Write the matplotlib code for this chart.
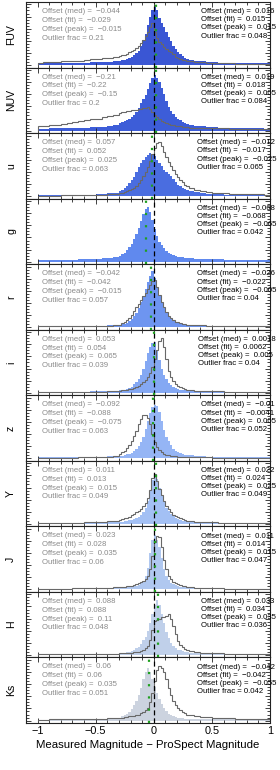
import numpy as np
import matplotlib
matplotlib.use("Agg")
import matplotlib.pyplot as plt
from matplotlib.ticker import MultipleLocator

plt.rcParams['font.family'] = ['Liberation Sans', 'DejaVu Sans']

# ---------------- data ----------------
bands = ["FUV", "NUV", "u", "g", "r", "i", "z", "Y", "J", "H", "Ks"]
fill_colors = ['#3a56d4', '#3d5dd8', '#4a6de0', '#6089ee', '#6e95f0', '#84a8f3',
               '#95b5f5', '#a3c0f4', '#b0c8f0', '#c0d0ea', '#ccd3df']

# bin edges: coarse tails, fine core
edges = np.concatenate([np.arange(-1.0, -0.3, 0.05), np.arange(-0.3, 0.3, 0.02),
                        np.arange(0.3, 1.0001, 0.05)])

fuv_fill = [0.035,0.035,0.035,0.036,0.037,0.038,0.039,0.04,0.042,0.044,0.047,0.052,0.058,0.065,
            0.072,0.08,0.09,0.10,0.12,0.14,0.16,0.20,0.24,0.32,0.42,0.52,0.66,0.80,0.90,
            0.96,0.90,0.78,0.70,0.62,0.54,0.46,0.40,0.32,0.26,0.21,0.18,0.15,0.12,0.10,
            0.085,0.07,0.06,0.05,0.045,0.04,0.037,0.035,0.033,0.032,0.031,0.03,0.03,0.03]
fuv_gray = [0.04,0.045,0.05,0.055,0.06,0.065,0.07,0.075,0.085,0.095,0.105,0.115,0.125,0.14,
            0.15,0.16,0.17,0.19,0.21,0.23,0.25,0.28,0.32,0.37,0.42,0.48,0.54,0.62,0.69,
            0.55,0.45,0.38,0.34,0.30,0.27,0.24,0.21,0.18,0.14,0.12,0.10,0.09,0.08,0.07,
            0.06,0.05,0.045,0.04,0.035,0.033,0.03,0.028,0.026,0.025,0.024,0.023,0.022,0.02]
nuv_fill = [0.035,0.035,0.037,0.038,0.04,0.042,0.045,0.048,0.052,0.056,0.06,0.068,0.078,0.095,
            0.12,0.14,0.155,0.17,0.19,0.22,0.25,0.31,0.38,0.46,0.52,0.59,0.68,0.78,0.86,
            0.92,0.87,0.80,0.70,0.60,0.49,0.39,0.32,0.27,0.23,0.20,0.17,0.145,0.125,0.11,
            0.095,0.08,0.07,0.063,0.057,0.052,0.048,0.045,0.042,0.04,0.038,0.037,0.036,0.035]
nuv_gray = [0.07,0.08,0.09,0.10,0.115,0.125,0.14,0.155,0.17,0.185,0.2,0.22,0.24,0.265,
            0.29,0.30,0.31,0.32,0.33,0.335,0.34,0.345,0.35,0.36,0.37,0.38,0.39,0.35,0.30,
            0.26,0.22,0.19,0.165,0.145,0.13,0.115,0.10,0.09,0.08,0.075,0.07,0.065,0.06,0.056,
            0.052,0.048,0.045,0.042,0.04,0.038,0.036,0.034,0.033,0.032,0.031,0.03,0.03,0.03]
u_fill = [0.015,0.015,0.016,0.017,0.018,0.019,0.02,0.022,0.025,0.028,0.032,0.037,0.045,0.06,
          0.08,0.11,0.14,0.17,0.21,0.26,0.32,0.40,0.48,0.55,0.60,0.64,0.68,0.72,0.70,
          0.66,0.60,0.55,0.50,0.44,0.40,0.36,0.33,0.28,0.23,0.19,0.16,0.14,0.12,0.10,
          0.08,0.065,0.05,0.042,0.036,0.032,0.028,0.025,0.023,0.021,0.02,0.02,0.019,0.018]
u_gray = [0.01,0.01,0.01,0.011,0.012,0.013,0.014,0.016,0.018,0.02,0.023,0.027,0.032,0.04,
          0.05,0.06,0.075,0.09,0.105,0.12,0.14,0.17,0.21,0.27,0.33,0.40,0.48,0.58,0.70,
          0.80,0.88,0.90,0.82,0.73,0.64,0.56,0.49,0.43,0.37,0.31,0.27,0.23,0.19,0.17,
          0.13,0.10,0.085,0.07,0.06,0.052,0.046,0.04,0.036,0.033,0.031,0.03,0.029,0.028]
g_fill = [0.03,0.03,0.031,0.032,0.033,0.035,0.037,0.04,0.043,0.046,0.05,0.056,0.065,0.08,
          0.10,0.12,0.15,0.19,0.24,0.30,0.38,0.46,0.55,0.67,0.78,0.87,0.90,0.82,0.68,
          0.54,0.42,0.33,0.27,0.22,0.18,0.145,0.12,0.105,0.095,0.085,0.078,0.072,0.067,0.062,
          0.056,0.05,0.046,0.043,0.04,0.038,0.036,0.034,0.033,0.032,0.031,0.03,0.03,0.03]
g_gray = None
r_fill = [0.017,0.017,0.017,0.018,0.018,0.019,0.02,0.021,0.022,0.023,0.025,0.027,0.03,0.034,
          0.04,0.05,0.06,0.075,0.10,0.13,0.18,0.24,0.32,0.42,0.52,0.63,0.75,0.85,0.92,
          0.82,0.66,0.52,0.41,0.32,0.25,0.19,0.14,0.11,0.085,0.07,0.06,0.052,0.047,0.043,
          0.038,0.033,0.03,0.027,0.025,0.023,0.021,0.02,0.019,0.018,0.018,0.017,0.017,0.017]
r_gray = [0.015,0.015,0.016,0.016,0.017,0.018,0.019,0.02,0.021,0.022,0.023,0.025,0.028,0.035,
          0.045,0.065,0.09,0.12,0.16,0.21,0.27,0.33,0.39,0.45,0.51,0.56,0.63,0.70,0.76,
          0.78,0.66,0.53,0.42,0.33,0.25,0.19,0.15,0.12,0.095,0.08,0.065,0.055,0.048,0.044,
          0.038,0.033,0.03,0.028,0.026,0.024,0.023,0.022,0.021,0.02,0.02,0.019,0.019,0.018]
i_fill = [0.017,0.017,0.017,0.018,0.018,0.019,0.02,0.021,0.022,0.023,0.025,0.027,0.03,0.035,
          0.04,0.047,0.055,0.065,0.08,0.10,0.14,0.18,0.23,0.30,0.39,0.52,0.66,0.76,0.82,
          0.83,0.70,0.54,0.40,0.30,0.23,0.17,0.13,0.10,0.08,0.065,0.055,0.045,0.04,0.036,
          0.032,0.028,0.025,0.023,0.021,0.02,0.019,0.018,0.018,0.017,0.017,0.017,0.017,0.017]
i_gray = [0.01,0.01,0.01,0.011,0.011,0.012,0.013,0.014,0.015,0.017,0.019,0.022,0.026,0.03,
          0.035,0.04,0.045,0.05,0.06,0.07,0.08,0.10,0.12,0.15,0.18,0.21,0.26,0.32,0.42,
          0.55,0.70,0.85,0.90,0.76,0.55,0.36,0.26,0.20,0.15,0.12,0.10,0.08,0.065,0.055,
          0.045,0.038,0.033,0.029,0.026,0.024,0.022,0.02,0.019,0.018,0.018,0.017,0.017,0.017]
z_fill = [0.017,0.017,0.018,0.018,0.019,0.02,0.021,0.022,0.023,0.025,0.027,0.03,0.033,0.037,
          0.04,0.045,0.055,0.065,0.075,0.09,0.12,0.16,0.21,0.27,0.36,0.48,0.61,0.74,0.84,
          0.88,0.86,0.76,0.62,0.46,0.35,0.28,0.22,0.16,0.12,0.10,0.085,0.072,0.062,0.055,
          0.048,0.04,0.035,0.03,0.027,0.024,0.022,0.021,0.02,0.019,0.018,0.018,0.017,0.017]
z_gray = [0.01,0.01,0.01,0.011,0.012,0.013,0.014,0.015,0.017,0.019,0.021,0.024,0.03,0.04,
          0.07,0.10,0.13,0.17,0.22,0.28,0.37,0.45,0.56,0.65,0.71,0.72,0.66,0.56,0.40,
          0.27,0.19,0.14,0.10,0.075,0.06,0.05,0.042,0.036,0.032,0.03,0.028,0.025,0.023,0.022,
          0.02,0.018,0.016,0.015,0.014,0.013,0.012,0.012,0.011,0.011,0.01,0.01,0.01,0.01]
y_fill = [0.011,0.011,0.012,0.012,0.013,0.014,0.015,0.016,0.017,0.019,0.021,0.024,0.028,0.032,
          0.034,0.038,0.045,0.053,0.06,0.07,0.08,0.10,0.12,0.15,0.20,0.27,0.38,0.55,0.72,
          0.82,0.74,0.60,0.48,0.36,0.27,0.21,0.17,0.13,0.10,0.08,0.065,0.055,0.048,0.043,
          0.038,0.032,0.028,0.024,0.021,0.019,0.017,0.015,0.014,0.013,0.012,0.012,0.011,0.011]
y_gray = [0.011,0.012,0.013,0.014,0.015,0.017,0.019,0.021,0.024,0.027,0.031,0.036,0.042,0.05,
          0.06,0.075,0.09,0.105,0.12,0.14,0.16,0.19,0.22,0.25,0.30,0.35,0.42,0.56,0.76,
          0.82,0.70,0.58,0.47,0.38,0.30,0.24,0.19,0.155,0.13,0.11,0.09,0.075,0.065,0.056,
          0.048,0.04,0.034,0.029,0.025,0.022,0.019,0.017,0.015,0.014,0.013,0.012,0.012,0.011]
j_fill = [0.012,0.012,0.012,0.013,0.013,0.014,0.015,0.016,0.017,0.018,0.02,0.022,0.025,0.028,
          0.03,0.033,0.036,0.04,0.045,0.05,0.057,0.065,0.076,0.10,0.14,0.22,0.36,0.60,0.82,
          0.90,0.82,0.70,0.52,0.34,0.22,0.15,0.11,0.085,0.068,0.057,0.048,0.042,0.037,0.033,
          0.029,0.025,0.022,0.02,0.018,0.017,0.016,0.015,0.014,0.013,0.013,0.012,0.012,0.012]
j_gray = [0.012,0.012,0.013,0.014,0.015,0.016,0.017,0.019,0.021,0.023,0.025,0.027,0.03,0.034,
          0.035,0.04,0.045,0.05,0.055,0.065,0.076,0.088,0.10,0.12,0.14,0.17,0.23,0.34,0.55,
          0.78,0.88,0.86,0.70,0.48,0.33,0.22,0.17,0.13,0.11,0.09,0.075,0.06,0.052,0.045,
          0.038,0.032,0.027,0.023,0.02,0.018,0.016,0.015,0.014,0.013,0.013,0.012,0.012,0.012]
h_fill = [0.012,0.012,0.012,0.013,0.013,0.014,0.014,0.015,0.016,0.017,0.018,0.019,0.021,0.023,
          0.027,0.03,0.036,0.043,0.05,0.065,0.085,0.11,0.14,0.18,0.24,0.30,0.40,0.53,0.68,
          0.82,0.90,0.82,0.67,0.52,0.38,0.28,0.20,0.15,0.11,0.09,0.075,0.06,0.05,0.042,
          0.035,0.029,0.025,0.022,0.02,0.018,0.016,0.015,0.014,0.013,0.013,0.012,0.012,0.012]
h_gray = [0.012,0.012,0.012,0.013,0.013,0.014,0.015,0.016,0.017,0.018,0.019,0.02,0.022,0.024,
          0.026,0.028,0.03,0.032,0.036,0.04,0.045,0.05,0.058,0.07,0.09,0.11,0.15,0.24,0.42,
          0.56,0.58,0.60,0.62,0.63,0.65,0.67,0.60,0.48,0.34,0.23,0.17,0.13,0.10,0.08,
          0.065,0.05,0.04,0.034,0.03,0.026,0.023,0.021,0.019,0.017,0.015,0.014,0.013,0.012]
ks_fill = [0.017,0.017,0.017,0.018,0.018,0.019,0.02,0.021,0.022,0.024,0.026,0.028,0.031,0.037,
           0.05,0.07,0.09,0.11,0.14,0.19,0.26,0.33,0.42,0.54,0.68,0.80,0.87,0.80,0.68,
           0.56,0.45,0.35,0.27,0.20,0.15,0.11,0.09,0.07,0.055,0.045,0.04,0.035,0.032,0.03,
           0.027,0.025,0.023,0.022,0.021,0.02,0.019,0.019,0.018,0.018,0.017,0.017,0.017,0.017]
ks_gray = [0.017,0.017,0.018,0.019,0.02,0.021,0.022,0.024,0.026,0.028,0.03,0.032,0.035,0.04,
           0.045,0.05,0.056,0.062,0.068,0.072,0.077,0.085,0.10,0.12,0.14,0.17,0.21,0.30,0.45,
           0.65,0.84,0.90,0.87,0.80,0.68,0.53,0.42,0.33,0.26,0.21,0.17,0.14,0.12,0.10,
           0.085,0.072,0.062,0.055,0.05,0.045,0.041,0.038,0.034,0.031,0.028,0.026,0.024,0.022]

fills = [fuv_fill, nuv_fill, u_fill, g_fill, r_fill, i_fill, z_fill, y_fill, j_fill, h_fill, ks_fill]
grays = [fuv_gray, nuv_gray, u_gray, g_gray, r_gray, i_gray, z_gray, y_gray, j_gray, h_gray, ks_gray]

# statistics text (left = grey outline histogram, right = filled histogram)
left_med  = ["−0.044", "−0.21", "0.057", None, "−0.042", "0.053", "−0.092", "0.011", "0.023", "0.088", "0.06"]
left_fit  = ["−0.029", "−0.22", "0.052", None, "−0.042", "0.054", "−0.088", "0.013", "0.028", "0.088", "0.06"]
left_peak = ["−0.015", "−0.15", "0.025", None, "−0.015", "0.065", "−0.075", "0.015", "0.035", "0.11", "0.035"]
left_out  = ["0.21", "0.2", "0.063", None, "0.057", "0.039", "0.063", "0.049", "0.06", "0.048", "0.051"]
right_med  = ["0.016", "0.019", "−0.012", "−0.068", "−0.026", "0.0018", "−0.01", "0.022", "0.011", "0.033", "−0.042"]
right_fit  = ["0.015", "0.018", "−0.017", "−0.068", "−0.022", "0.0062", "−0.0041", "0.024", "0.014", "0.034", "−0.042"]
right_peak = ["0.015", "0.005", "−0.025", "−0.065", "−0.005", "0.005", "0.005", "0.025", "0.015", "0.035", "−0.055"]
right_out  = ["0.048", "0.084", "0.065", "0.042", "0.04", "0.04", "0.052", "0.049", "0.047", "0.036", "0.042"]

xticks = [-1, -0.5, 0, 0.5, 1]
xticklabels = ["−1", "−0.5", "0", "0.5", "1"]
xlabel = "Measured Magnitude − ProSpect Magnitude"

# ---------------- figure ----------------
fig = plt.figure(figsize=(2.8, 7.7), dpi=100)
axes = fig.subplots(len(bands), 1, sharex=True, gridspec_kw=dict(hspace=0))
fig.subplots_adjust(left=26/280, right=270/280, top=1-2/770, bottom=1-723/770)

def to_num(s):
    return float(s.replace("−", "-"))

text_fs = 5.6
line_y = [0.855, 0.72, 0.585, 0.45]

for k, ax in enumerate(axes):
    ax.stairs(fills[k], edges, fill=True, color=fill_colors[k], lw=0, zorder=1)
    if grays[k] is not None:
        ax.stairs(grays[k], edges, color='#686868', lw=0.8, zorder=2)
    ax.axvline(0, color='black', lw=0.9, ls=(0, (4, 2.5)), zorder=3)
    ax.axvline(to_num(right_med[k]), color='#1fa01f', lw=1.6, ls=(0, (1, 4.5)), zorder=4)

    ax.set_xlim(-1.1, 1.0)
    ax.set_ylim(-0.04, 1.04)
    ax.xaxis.set_major_locator(MultipleLocator(0.5))
    ax.xaxis.set_minor_locator(MultipleLocator(0.1))
    ax.yaxis.set_major_locator(MultipleLocator(0.2))
    ax.yaxis.set_minor_locator(MultipleLocator(0.05))
    ax.tick_params(which='both', direction='in', top=True, right=True,
                   labelleft=False, width=0.6, color='#222222')
    ax.tick_params(which='major', length=3.5)
    ax.tick_params(which='minor', length=2.0)
    for sp in ax.spines.values():
        sp.set_linewidth(0.8)
        sp.set_color('#222222')

    ax.text(-0.061, 0.5, bands[k], transform=ax.transAxes, rotation=90,
            ha='center', va='center', fontsize=7.6)

    if left_med[k] is not None:
        lines = ["Offset (med) =  " + left_med[k], "Offset (fit) =  " + left_fit[k],
                 "Offset (peak) =  " + left_peak[k], "Outlier frac = " + left_out[k]]
        for yy, t in zip(line_y, lines):
            ax.text(0.064, yy, t, transform=ax.transAxes, ha='left', va='center',
                    fontsize=text_fs, color='#8a8a8a')
    rlines = ["Offset (med) =  " + right_med[k], "Offset (fit) =  " + right_fit[k],
              "Offset (peak) =  " + right_peak[k], "Outlier frac = " + right_out[k]]
    ax.text(1.025, 0.905, "\n".join(rlines), transform=ax.transAxes, ha='right',
            va='top', multialignment='left', fontsize=text_fs, color='black',
            linespacing=1.22)

axes[-1].set_xticks(xticks)
axes[-1].set_xticklabels(xticklabels)
axes[-1].tick_params(axis='x', which='major', labelsize=7.8, pad=2)
axes[-1].set_xlabel(xlabel, fontsize=8.2, labelpad=3)

fig.savefig("out.png", dpi=100)
